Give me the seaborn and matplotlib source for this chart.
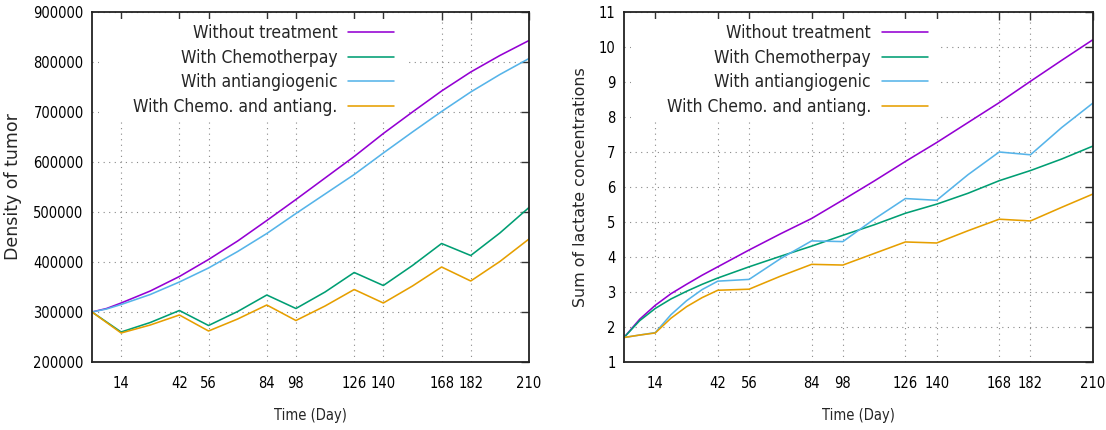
import numpy as np
import pandas as pd
import matplotlib
matplotlib.use("Agg")
import matplotlib.pyplot as plt
from matplotlib.patches import Rectangle
import seaborn as sns

# ---------------- data ----------------
series_names = ["Without treatment", "With Chemotherpay", "With antiangiogenic", "With Chemo. and antiang."]
colors = ["#9400d3", "#009e73", "#56b4e9", "#e69f00"]

# Left panel: density of tumor
days_smooth = [0, 7, 14, 28, 42, 56, 70, 84, 98, 112, 126, 140, 154, 168, 182, 196, 210]
tumor_none = [300000, 307000, 318000, 342000, 371000, 405000, 442000, 483000, 525000, 568000,
              611000, 657000, 700000, 742000, 780000, 813000, 843000]
tumor_anti = [300000, 306000, 315000, 335000, 360000, 388000, 421000, 457000, 497000, 536000,
              575000, 618000, 660000, 701000, 740000, 775000, 807000]

days_pw = [0, 14, 28, 42, 56, 70, 84, 98, 112, 126, 140, 154, 168, 182, 196, 210]
tumor_chemo = [300000, 260000, 279000, 303000, 273000, 301000, 334000, 307000, 340000, 379000,
               353000, 393000, 437000, 413000, 458000, 509000]
tumor_both = [300000, 258000, 274000, 294000, 262000, 286000, 314000, 283000, 312000, 345000,
              318000, 352000, 390000, 362000, 401000, 446000]

# Right panel: sum of lactate concentrations
lact_days = [0, 7, 14, 21, 28, 35, 42, 56, 70, 84, 98, 112, 126, 140, 154, 168, 182, 196, 210]
lact_none = [1.70, 2.22, 2.62, 2.95, 3.22, 3.48, 3.72, 4.20, 4.66, 5.10, 5.63, 6.17, 6.73, 7.27,
             7.84, 8.41, 9.02, 9.62, 10.21]
lact_chemo = [1.70, 2.18, 2.53, 2.80, 3.02, 3.22, 3.40, 3.72, 4.02, 4.31, 4.62, 4.92, 5.25, 5.51,
              5.82, 6.18, 6.47, 6.80, 7.17]
lact_anti = [1.70, 1.77, 1.84, 2.35, 2.75, 3.07, 3.31, 3.36, 3.95, 4.46, 4.44, 5.08, 5.67, 5.62,
             6.35, 7.00, 6.92, 7.70, 8.40]
lact_both = [1.70, 1.77, 1.83, 2.25, 2.58, 2.84, 3.05, 3.08, 3.45, 3.79, 3.77, 4.10, 4.43, 4.40,
             4.75, 5.08, 5.03, 5.42, 5.80]

x_ticks = [14, 42, 56, 84, 98, 126, 140, 168, 182, 210]

# ---------------- style ----------------
sns.set_style("white")
plt.rcParams["font.family"] = ["DejaVu Sans"]

fig = plt.figure(figsize=(11.06, 4.30), dpi=100)
W, H = 1106, 430
ax1 = fig.add_axes([92 / W, (H - 362) / H, 437 / W, 350 / H])
ax2 = fig.add_axes([624 / W, (H - 362) / H, 469 / W, 350 / H])

cond = dict(fontstretch="condensed")


def style_axes(ax, ylim, yticks, ylabel, ylabel_size, legend_anchor, key_box):
    ax.set_xlim(0, 210)
    ax.set_ylim(*ylim)
    ax.set_xticks(x_ticks)
    ax.set_yticks(yticks)
    ax.set_xticklabels([str(t) for t in x_ticks], fontsize=10.5, **cond)
    ax.set_yticklabels([str(t) for t in yticks], fontsize=10.5, **cond)
    ax.tick_params(direction="in", length=6, width=1.0, top=True, right=True,
                   color="#333333", labelcolor="black")
    ax.tick_params(axis="x", pad=10)
    ax.tick_params(axis="y", pad=6)
    ax.grid(True, linestyle=(0, (1, 4)), color="#888888", linewidth=0.8)
    for s in ax.spines.values():
        s.set_visible(True)
        s.set_color("#222222")
        s.set_linewidth(1.3)
        s.set_zorder(6)
    ax.set_xlabel("Time (Day)", fontsize=10.5, labelpad=12, **cond)
    ax.set_ylabel(ylabel, fontsize=ylabel_size, labelpad=8)
    # opaque key background (hides the grid under the key, like gnuplot)
    x0, y0, x1, y1 = key_box
    ax.add_patch(Rectangle((x0, y0), x1 - x0, y1 - y0, transform=ax.transAxes,
                           facecolor="white", edgecolor="none", zorder=1.8))
    leg = ax.legend(loc="upper right", bbox_to_anchor=legend_anchor, markerfirst=False,
                    frameon=False, borderpad=0.3, handlelength=2.65, handletextpad=0.63,
                    labelspacing=0.38, borderaxespad=0.0,
                    prop=dict(size=12.5, stretch="condensed"))
    for t in leg.get_texts():
        t.set_ha("right")
    leg.set_zorder(5)


df_l = pd.concat([
    pd.DataFrame({"day": days_smooth, "val": tumor_none, "series": series_names[0]}),
    pd.DataFrame({"day": days_pw, "val": tumor_chemo, "series": series_names[1]}),
    pd.DataFrame({"day": days_smooth, "val": tumor_anti, "series": series_names[2]}),
    pd.DataFrame({"day": days_pw, "val": tumor_both, "series": series_names[3]}),
])
df_r = pd.concat([
    pd.DataFrame({"day": lact_days, "val": v, "series": n})
    for v, n in zip([lact_none, lact_chemo, lact_anti, lact_both], series_names)
])

pal = dict(zip(series_names, colors))
sns.lineplot(data=df_l, x="day", y="val", hue="series", hue_order=series_names,
             palette=pal, linewidth=1.15, ax=ax1, sort=True, estimator=None)
sns.lineplot(data=df_r, x="day", y="val", hue="series", hue_order=series_names,
             palette=pal, linewidth=1.15, ax=ax2, sort=True, estimator=None)

style_axes(ax1, (200000, 900000), list(range(200000, 900001, 100000)),
           "Density of tumor", 12.5, (0.704, 0.98), (0.016, 0.691, 0.716, 0.98))
style_axes(ax2, (1, 11), list(range(1, 12)),
           "Sum of lactate concentrations", 11.4, (0.659, 0.98), (0.015, 0.691, 0.674, 0.98))

fig.savefig("out.png", dpi=100)
